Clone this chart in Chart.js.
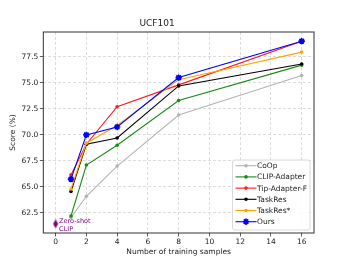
<!DOCTYPE html>
<html>
<head>
<meta charset="utf-8">
<script src="https://cdn.jsdelivr.net/npm/chart.js@4"></script>
<style>
  html, body { margin: 0; padding: 0; background: #fff; }
</style>
</head>
<body>
<canvas id="chart" width="349" height="262"></canvas>
<script>
const shots = [1, 2, 4, 8, 16];
const coop = [62.05, 64.1, 67.0, 71.9, 75.7];
const clipAdapter = [62.2, 67.1, 69.0, 73.3, 76.7];
const tipAdapterF = [66.15, 69.1, 72.7, 74.8, 79.0];
const taskRes = [64.55, 69.1, 69.7, 74.7, 76.8];
const taskResStar = [64.8, 69.2, 70.9, 75.3, 77.95];
const ours = [65.75, 70.0, 70.75, 75.5, 79.0];
const zeroShot = { x: 0, y: 61.45 };

const xTicks = [0, 2, 4, 6, 8, 10, 12, 14, 16];
const yTicks = [62.5, 65.0, 67.5, 70.0, 72.5, 75.0, 77.5];

const FONT = "'DejaVu Sans', sans-serif";

// thin diamond marker like matplotlib 'd'
const thinDiamond = (() => {
  const c = document.createElement("canvas");
  c.width = 6;
  c.height = 9;
  const g = c.getContext("2d");
  g.fillStyle = "#800080";
  g.beginPath();
  g.moveTo(3, 0);
  g.lineTo(5.5, 4.5);
  g.lineTo(3, 9);
  g.lineTo(0.5, 4.5);
  g.closePath();
  g.fill();
  return c;
})();

const series = [
  { label: "CoOp", data: coop, color: "#b4b4b4", style: "circle" },
  { label: "CLIP-Adapter", data: clipAdapter, color: "#1a8a1a", style: "circle" },
  { label: "Tip-Adapter-F", data: tipAdapterF, color: "#ff1a1a", style: "circle" },
  { label: "TaskRes", data: taskRes, color: "#000000", style: "circle" },
  { label: "TaskRes*", data: taskResStar, color: "#ffa500", style: "circle" },
  { label: "Ours", data: ours, color: "#0000ff", style: "star" },
];

const datasets = series.map((s, i) => ({
  label: s.label,
  data: shots.map((x, j) => ({ x: x, y: s.data[j] })),
  borderColor: s.color,
  backgroundColor: s.color,
  borderWidth: 1.1,
  pointStyle: s.style,
  pointRadius: s.style === "star" ? 3.2 : 1.8,
  pointBorderWidth: s.style === "star" ? 1.6 : 0,
  pointBorderColor: s.color,
  tension: 0,
  order: series.length - i,
}));

datasets.push({
  label: "Zero-shot CLIP",
  data: [zeroShot],
  showLine: false,
  pointStyle: thinDiamond,
  order: 20,
});

// frame, legend box and the zero-shot text
const extras = {
  id: "extras",
  afterDatasetsDraw(chart) {
    const { ctx, chartArea: a, scales } = chart;
    ctx.save();
    ctx.strokeStyle = "#333";
    ctx.lineWidth = 1;
    ctx.strokeRect(a.left, a.top, a.right - a.left, a.bottom - a.top);

    // zero-shot annotation
    const zx = scales.x.getPixelForValue(zeroShot.x);
    const zy = scales.y.getPixelForValue(zeroShot.y);
    ctx.fillStyle = "#800080";
    ctx.font = "6.5px " + FONT;
    ctx.textBaseline = "middle";
    ctx.textAlign = "left";
    ctx.fillText("Zero-shot", zx + 3.5, zy - 3);
    ctx.fillText("CLIP", zx + 3.5, zy + 5.5);

    // legend
    const bx = a.right - 81.5, by = a.bottom - 73, bw = 77.5, bh = 70;
    ctx.fillStyle = "rgba(255,255,255,0.85)";
    ctx.strokeStyle = "#d0d0d0";
    ctx.lineWidth = 0.8;
    ctx.beginPath();
    ctx.roundRect(bx, by, bw, bh, 2);
    ctx.fill();
    ctx.stroke();
    ctx.font = "7.5px " + FONT;
    series.forEach((s, i) => {
      const y = by + 5.7 + i * 11.2;
      ctx.strokeStyle = s.color;
      ctx.fillStyle = s.color;
      ctx.lineWidth = 1.1;
      ctx.beginPath();
      ctx.moveTo(bx + 3, y);
      ctx.lineTo(bx + 24, y);
      ctx.stroke();
      if (s.style === "star") {
        ctx.lineWidth = 1.6;
        Chart.helpers.drawPoint(ctx, { pointStyle: "star", radius: 3.2, borderWidth: 1.6 }, bx + 13.5, y);
      } else {
        ctx.beginPath();
        ctx.arc(bx + 13.5, y, 1.8, 0, Math.PI * 2);
        ctx.fill();
      }
      ctx.fillStyle = "#222";
      ctx.fillText(s.label, bx + 24.5, y + 0.5);
    });
    ctx.restore();
  },
};

new Chart(document.getElementById("chart"), {
  type: "line",
  data: { datasets: datasets },
  plugins: [extras],
  options: {
    responsive: false,
    devicePixelRatio: 1,
    animation: false,
    layout: { padding: { left: 0, right: 35, top: 0, bottom: 0 } },
    plugins: {
      legend: { display: false },
      tooltip: { enabled: false },
      title: {
        display: true,
        text: "UCF101",
        color: "#222",
        font: { family: FONT, size: 9, weight: "normal" },
        padding: { top: 18, bottom: 3.2 },
      },
    },
    scales: {
      x: {
        type: "linear",
        min: -0.8,
        max: 16.8,
        afterBuildTicks: (s) => { s.ticks = xTicks.map((v) => ({ value: v })); },
        afterFit: (s) => { s.height = 29; },
        grid: {
          color: "#d4d4d4",
          lineWidth: 0.8,
          tickColor: "#333",
          tickLength: 3.5,
          tickBorderDash: [],
        },
        border: { dash: [3, 2], display: false },
        ticks: { color: "#222", font: { family: FONT, size: 7.5 }, padding: 1, maxRotation: 0 },
        title: {
          display: true,
          text: "Number of training samples",
          color: "#222",
          font: { family: FONT, size: 7.5 },
          padding: { top: 0, bottom: 5.5 },
        },
      },
      y: {
        type: "linear",
        min: 60.57,
        max: 79.88,
        afterBuildTicks: (s) => { s.ticks = yTicks.map((v) => ({ value: v })); },
        afterFit: (s) => { s.width = 43.3; },
        grid: {
          color: "#d4d4d4",
          lineWidth: 0.8,
          tickColor: "#333",
          tickLength: 3.5,
          tickBorderDash: [],
        },
        border: { dash: [3, 2], display: false },
        ticks: {
          color: "#222",
          font: { family: FONT, size: 7.5 },
          padding: 1.5,
          callback: (v) => v.toFixed(1),
        },
        title: {
          display: true,
          text: "Score (%)",
          color: "#222",
          font: { family: FONT, size: 7.5 },
          padding: { top: 9, bottom: 0 },
        },
      },
    },
  },
});
</script>
</body>
</html>
